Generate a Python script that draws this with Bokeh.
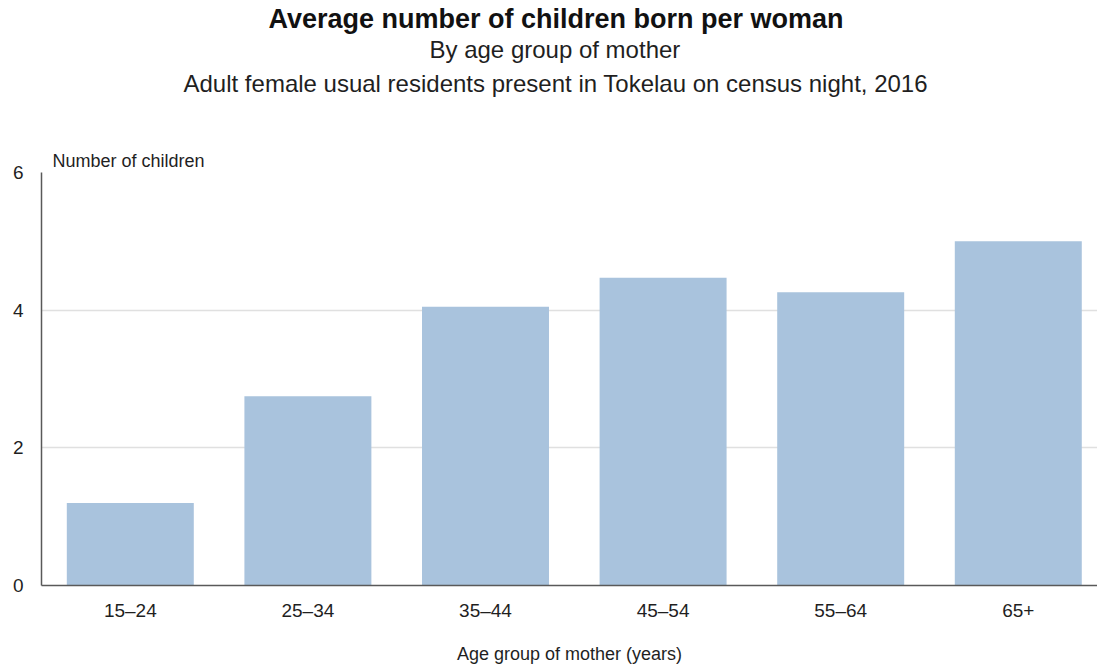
from bokeh.plotting import figure
from bokeh.models import Range1d, FixedTicker, Title
from bokeh.embed import file_html
from bokeh.resources import INLINE

categories = ["15–24", "25–34", "35–44", "45–54", "55–64", "65+"]
values = [1.2, 2.75, 4.05, 4.47, 4.26, 5.0]
y_ticks = [0, 2, 4, 6]

title_text = "Average number of children born per woman"
subtitle1 = "By age group of mother"
subtitle2 = "Adult female usual residents present in Tokelau on census night, 2016"
y_label = "Number of children"
x_label = "Age group of mother (years)"

FONT = "Liberation Sans"
TEXT = "#1f1f1f"
BAR = "#A9C3DD"

xs = list(range(len(categories)))

p = figure(width=1097, height=671, output_backend="svg", toolbar_location=None,
           x_range=Range1d(-0.5, 5.446), y_range=Range1d(0, 6),
           min_border_left=41, min_border_right=0, min_border_top=172,
           min_border_bottom=86)
p.outline_line_color = None
p.background_fill_color = "white"
p.border_fill_color = "white"

p.vbar(x=xs, top=values, width=0.715, fill_color=BAR, line_color=None)

# axes
p.xaxis.ticker = FixedTicker(ticks=xs)
p.xaxis.major_label_overrides = {i: c for i, c in zip(xs, categories)}
p.xaxis.major_tick_line_color = None
p.xaxis.major_tick_out = 0
p.xaxis.major_tick_in = 0
p.xaxis.minor_tick_line_color = None
p.xaxis.axis_line_color = "#595959"
p.xaxis.axis_line_width = 1.5
p.xaxis.major_label_text_font = FONT
p.xaxis.major_label_text_font_size = "19px"
p.xaxis.major_label_text_color = TEXT
p.xaxis.major_label_standoff = 14
p.xaxis.axis_label = x_label
p.xaxis.axis_label_text_font = FONT
p.xaxis.axis_label_text_font_size = "18px"
p.xaxis.axis_label_text_font_style = "normal"
p.xaxis.axis_label_text_color = TEXT
p.xaxis.axis_label_standoff = 20

p.yaxis.ticker = FixedTicker(ticks=y_ticks)
p.yaxis.major_tick_line_color = None
p.yaxis.major_tick_out = 0
p.yaxis.major_tick_in = 0
p.yaxis.minor_tick_line_color = None
p.yaxis.axis_line_color = "#595959"
p.yaxis.axis_line_width = 1.5
p.yaxis.major_label_text_font = FONT
p.yaxis.major_label_text_font_size = "19px"
p.yaxis.major_label_text_color = TEXT
p.yaxis.major_label_standoff = 18

p.xgrid.grid_line_color = None
p.ygrid.grid_line_color = "#E0E0E0"
p.ygrid.grid_line_width = 1.5

# titles (first added is closest to the frame)
p.add_layout(Title(text=y_label, align="left", offset=11, standoff=4,
                   text_font=FONT, text_font_size="18px",
                   text_font_style="normal", text_color=TEXT), "above")
p.add_layout(Title(text=" ", align="left", standoff=32,
                   text_font=FONT, text_font_size="10px"), "above")
p.add_layout(Title(text=subtitle2, align="left", offset=142, standoff=10,
                   text_font=FONT, text_font_size="24px",
                   text_font_style="normal", text_color=TEXT), "above")
p.add_layout(Title(text=subtitle1, align="left", offset=388, standoff=0,
                   text_font=FONT, text_font_size="24px",
                   text_font_style="normal", text_color=TEXT), "above")
p.title.text = title_text
p.title.align = "left"
p.title.offset = 227
p.title.standoff = 0
p.title.text_font = FONT
p.title.text_font_size = "27px"
p.title.text_font_style = "bold"
p.title.text_color = "#111111"

open("out.html", "w").write(file_html(p, INLINE))
